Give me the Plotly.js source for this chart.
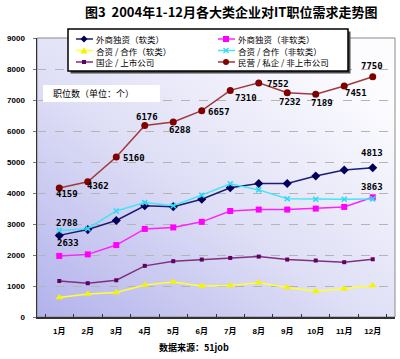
<!DOCTYPE html>
<html>
<head>
<meta charset="utf-8">
<script src="https://cdn.plot.ly/plotly-3.0.1.min.js"></script>
<style>html,body{margin:0;padding:0;background:#fff;}#chart{width:400px;height:359px;}</style>
</head>
<body>
<div id="chart"></div>
<script>
// ---------- data ----------
const months = ['1月','2月','3月','4月','5月','6月','7月','8月','9月','10月','11月','12月'];
const seriesNames = ['外商独资（软类）','外商独资（非软类）','合资 / 合作（软类）','合资 / 合作（非软类）','国企 / 上市公司','民营 / 私企 / 非上市公司'];
const foreignSoft    = [2633, 2820, 3115, 3590, 3560, 3800, 4170, 4305, 4305, 4548, 4740, 4813];
const foreignNonSoft = [1970, 2020, 2320, 2840, 2890, 3070, 3420, 3465, 3465, 3497, 3551, 3863];
const jointSoft      = [ 631,  739,  790, 1035, 1130, 1003, 1013, 1108,  949,  834,  908, 1013];
const jointNonSoft   = [2788, 2850, 3420, 3690, 3590, 3930, 4300, 4100, 3815, 3796, 3796, 3810];
const stateListed    = [1162, 1089, 1185, 1650, 1800, 1853, 1905, 1949, 1853, 1822, 1768, 1863];
const privateFirms   = [4159, 4362, 5160, 6176, 6288, 6657, 7310, 7552, 7232, 7189, 7451, 7750];
const yTicks = [0,1000,2000,3000,4000,5000,6000,7000,8000,9000];
const unitLabel = '职位数（单位：个）';
const sourceLabel = '数据来源：51job';
const titleText = '图3  2004年1-12月各大类企业对IT职位需求走势图';

const allSeries = [foreignSoft, foreignNonSoft, jointSoft, jointNonSoft, stateListed, privateFirms];

// ---------- styles ----------
const lineColors   = ['#1c1c78', '#ff22ff', '#ffff33', '#40e6f8', '#803080', '#a03a3a'];
const markerColors = ['#00005a', '#ff00ff', '#f4f400', '#30d8f0', '#600060', '#800000'];
const markerSymbols = ['diamond', 'square', 'triangle-up', 'x-thin', 'square', 'circle'];
const markerSizes  = [7, 6, 7, 5, 4, 7];

// value labels: [series index, month index, dx(px, right), dy(px, down)]
const valueLabels = [
  [5,0,8,6],[5,1,10,4],[5,2,18,1],[5,3,2,-9],[5,4,7,8],[5,5,17,1],
  [5,6,16,8],[5,7,19,1],[5,8,3,9],[5,9,6,9],[5,10,12,7],[5,11,-1,-11],
  [0,0,9,8],[3,0,8,-8],[0,11,-1,-15],[1,11,-1,-10]
];

// plot frame (pixels)
const W = 400, H = 359, L = 37, R = 395, T = 38, B = 317;
const px = x => (x - L) / (R - L);
const py = y => (B - y) / (B - T);

const traces = allSeries.map((vals, i) => ({
  type: 'scatter', mode: 'lines+markers', name: seriesNames[i],
  x: months, y: vals,
  line: {color: lineColors[i], width: 1.5},
  marker: {symbol: markerSymbols[i], size: markerSizes[i], color: markerColors[i],
           line: {color: markerColors[i], width: markerSymbols[i] === 'x-thin' ? 1.5 : 0}},
  cliponaxis: false, showlegend: false, hoverinfo: 'skip'
}));

const numFont = {family: 'DejaVu Sans Mono, monospace', size: 9, color: '#000', weight: 'bold'};
const annotations = valueLabels.map(([s, m, dx, dy]) => ({
  xref: 'x', yref: 'y', x: months[m], y: allSeries[s][m],
  text: String(allSeries[s][m]), showarrow: false, borderpad: 0,
  xshift: dx, yshift: -dy, font: numFont
}));

// unit label + source
annotations.push({xref: 'paper', yref: 'paper', x: px(52), y: py(93), xanchor: 'left', yanchor: 'middle',
  text: unitLabel, showarrow: false, borderpad: 0, font: {family: 'Noto Sans CJK SC', size: 9, color: '#000'}});
annotations.push({xref: 'paper', yref: 'paper', x: px(194), y: py(347), xanchor: 'center', yanchor: 'middle',
  text: '<b>' + sourceLabel + '</b>', showarrow: false, font: {family: 'Noto Sans CJK SC', size: 9, color: '#000'}});

const shapes = [];
// unit label white box
shapes.push({type: 'rect', xref: 'paper', yref: 'paper', x0: px(43), x1: px(160), y0: py(85), y1: py(102),
  fillcolor: '#ffffff', line: {width: 0}, layer: 'above'});
// plot frame top/right
shapes.push({type: 'rect', xref: 'paper', yref: 'paper', x0: 0, x1: 1, y0: 0, y1: 1,
  line: {color: '#8a8a8a', width: 1}, layer: 'below'});

// custom legend
shapes.push({type: 'rect', xref: 'paper', yref: 'paper', x0: px(70.5), x1: px(350.5), y0: py(73.5), y1: py(31.5),
  fillcolor: '#4a4a4a', line: {width: 0}, layer: 'above'});
shapes.push({type: 'rect', xref: 'paper', yref: 'paper', x0: px(68), x1: px(348), y0: py(71), y1: py(29),
  fillcolor: '#ffffff', line: {color: '#000', width: 1.5}, layer: 'above'});
const rowY = [39, 50.5, 62];
const colX = [76, 218];
seriesNames.forEach((nm, i) => {
  const cx = colX[i % 2], cy = rowY[Math.floor(i / 2)];
  const mx = cx + 8;
  shapes.push({type: 'line', xref: 'paper', yref: 'paper', x0: px(cx), x1: px(cx + 17), y0: py(cy), y1: py(cy),
    line: {color: lineColors[i], width: 1.5}, layer: 'above'});
  const c = markerColors[i];
  const sym = markerSymbols[i];
  if (sym === 'circle') {
    shapes.push({type: 'circle', xref: 'paper', yref: 'paper', x0: px(mx - 3), x1: px(mx + 3), y0: py(cy + 3), y1: py(cy - 3),
      fillcolor: c, line: {width: 0}, layer: 'above'});
  } else if (sym === 'square') {
    const r = i === 1 ? 3 : 2;
    shapes.push({type: 'rect', xref: 'paper', yref: 'paper', x0: px(mx - r), x1: px(mx + r), y0: py(cy + r), y1: py(cy - r),
      fillcolor: c, line: {width: 0}, layer: 'above'});
  } else if (sym === 'diamond') {
    shapes.push({type: 'path', xref: 'paper', yref: 'paper',
      path: `M ${px(mx)} ${py(cy - 3.5)} L ${px(mx + 3.5)} ${py(cy)} L ${px(mx)} ${py(cy + 3.5)} L ${px(mx - 3.5)} ${py(cy)} Z`,
      fillcolor: c, line: {width: 0}, layer: 'above'});
  } else if (sym === 'triangle-up') {
    shapes.push({type: 'path', xref: 'paper', yref: 'paper',
      path: `M ${px(mx)} ${py(cy - 3.5)} L ${px(mx + 3.5)} ${py(cy + 3)} L ${px(mx - 3.5)} ${py(cy + 3)} Z`,
      fillcolor: c, line: {width: 0}, layer: 'above'});
  } else {
    shapes.push({type: 'path', xref: 'paper', yref: 'paper',
      path: `M ${px(mx - 2.5)} ${py(cy - 2.5)} L ${px(mx + 2.5)} ${py(cy + 2.5)} M ${px(mx - 2.5)} ${py(cy + 2.5)} L ${px(mx + 2.5)} ${py(cy - 2.5)}`,
      line: {color: c, width: 1.2}, layer: 'above'});
  }
  annotations.push({xref: 'paper', yref: 'paper', x: px(cx + 19), y: py(cy), xanchor: 'left', yanchor: 'middle',
    text: nm, showarrow: false, borderpad: 0, font: {family: 'Noto Sans CJK SC', size: 8.5, color: '#000'}});
});

// background gradient image
const bgSvg = '<svg xmlns="http://www.w3.org/2000/svg" width="358" height="279" preserveAspectRatio="none">' +
  '<defs><linearGradient id="g" x1="0" y1="1" x2="0.85" y2="0.1">' +
  '<stop offset="0" stop-color="#b2b2ec"/><stop offset="0.5" stop-color="#dedef6"/><stop offset="1" stop-color="#fcfcff"/>' +
  '</linearGradient></defs><rect width="358" height="279" fill="url(#g)"/></svg>';

const layout = {
  width: W, height: H,
  margin: {l: L, r: W - R, t: T, b: H - B, pad: 0},
  paper_bgcolor: '#ffffff', plot_bgcolor: 'rgba(0,0,0,0)',
  showlegend: false,
  title: {text: '<b>' + titleText + '</b>', xref: 'container', yref: 'container', x: 0.578, xanchor: 'center',
    y: 1 - 12 / H, yanchor: 'middle', font: {family: 'Noto Sans CJK SC', size: 13, color: '#000'}},
  xaxis: {type: 'category', categoryorder: 'array', categoryarray: months,
    showline: true, linecolor: '#333', linewidth: 1.5, showgrid: false, zeroline: false,
    ticks: 'inside', tickson: 'boundaries', ticklen: 3, tickcolor: '#333', tickwidth: 1,
    ticklabelstandoff: 6,
    tickfont: {family: 'Liberation Sans, Noto Sans CJK SC', size: 8, color: '#000', weight: 'bold'}},
  yaxis: {range: [0, 9000], tickvals: yTicks, ticktext: yTicks.map(String),
    showline: true, linecolor: '#333', linewidth: 1.5, zeroline: false,
    showgrid: true, gridcolor: '#b4b4b4', griddash: 'dash', gridwidth: 1,
    ticks: 'outside', ticklen: 3, tickcolor: '#777', ticklabelstandoff: 6,
    tickfont: {family: 'Liberation Sans', size: 8, color: '#000', weight: 'bold'}},
  images: [{source: 'data:image/svg+xml;charset=utf-8,' + encodeURIComponent(bgSvg),
    xref: 'paper', yref: 'paper', x: 0, y: 1, sizex: 1, sizey: 1, xanchor: 'left', yanchor: 'top',
    sizing: 'stretch', layer: 'below'}],
  shapes: shapes,
  annotations: annotations
};

Plotly.newPlot('chart', traces, layout, {displayModeBar: false, staticPlot: true});
</script>
</body>
</html>
